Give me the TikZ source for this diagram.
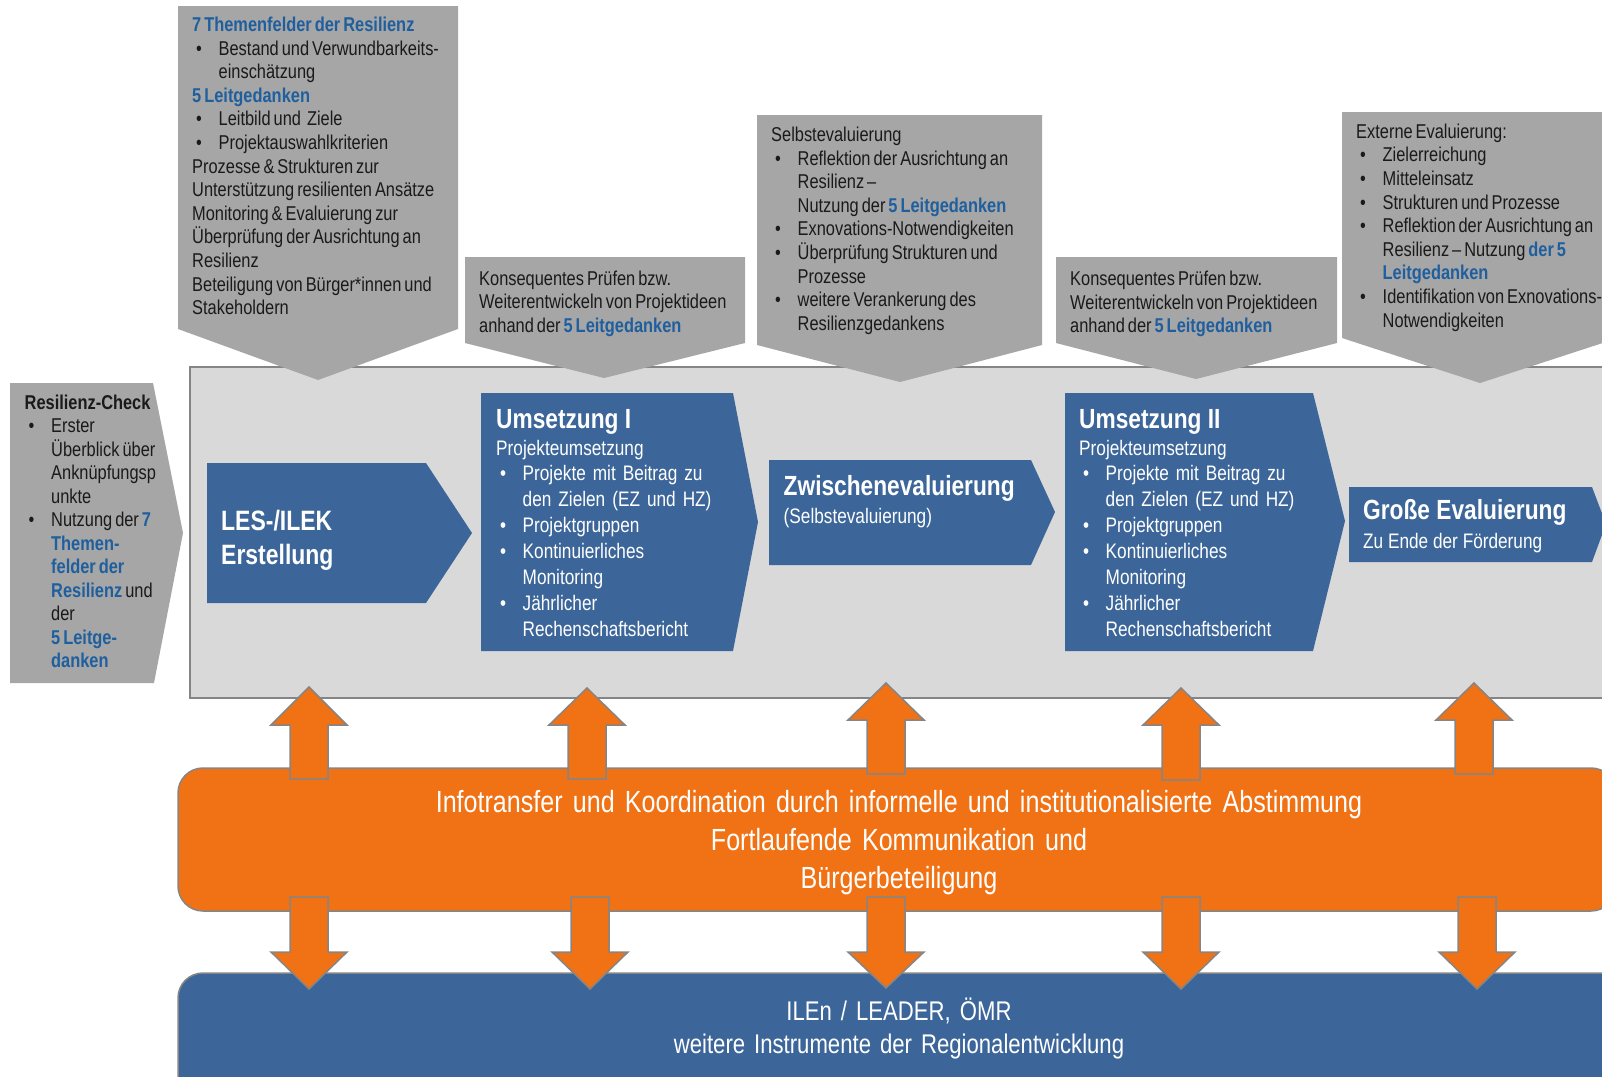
\documentclass[tikz,border=0pt]{standalone}
\usepackage{fontspec}
\setmainfont{Liberation Sans}[FakeStretch=0.82]
\definecolor{cgray}{HTML}{A6A6A6}
\definecolor{cpanel}{HTML}{D9D9D9}
\definecolor{cedge}{HTML}{858585}
\definecolor{cblue}{HTML}{3C6699}
\definecolor{ctxt}{HTML}{1F5F9E}
\definecolor{corange}{HTML}{F07214}
\definecolor{cdark}{HTML}{1A1A1A}
\newcommand\hl[1]{\textcolor{ctxt}{\bfseries #1}}
\newcommand\bu{\hspace*{4pt}\makebox[22.5pt][l]{\textbullet}}
\newcommand\ii{\hspace*{26.5pt}}
\newcommand\TightSp{\spaceskip 3pt plus 1pt minus 0.5pt\relax}
\newcommand\UpArrow[4]{%
  \draw[arr] (#1,#2) -- (#1+38,#3) -- (#1+19,#3) -- (#1+19,#4) -- (#1-19,#4) -- (#1-19,#3) -- (#1-38,#3) -- cycle;}
\newcommand\DownArrow[4]{%
  \draw[arr] (#1,#2) -- (#1+38,#3) -- (#1+19,#3) -- (#1+19,#4) -- (#1-19,#4) -- (#1-19,#3) -- (#1-38,#3) -- cycle;}
\begin{document}
\begin{tikzpicture}[x=1pt,y=-1pt,
  callout/.style={fill=cgray},
  panel/.style={fill=cpanel, draw=cedge, line width=1.5pt},
  chev/.style={fill=cblue},
  band/.style={draw=cedge, line width=1.5pt, rounded corners=25pt},
  arr/.style={fill=corange, draw=cedge, line width=1.5pt, line join=miter},
  ctext/.style={anchor=base west, inner sep=0pt, text width=420pt, align=left, text=cdark,
    font=\fontsize{20}{23.6}\selectfont, execute at begin node=\TightSp},
  wtext/.style={anchor=base west, inner sep=0pt, text width=420pt, align=left, text=white,
    font=\fontsize{21}{26}\selectfont},
  ttext/.style={anchor=base west, inner sep=0pt, text=white, font=\fontsize{27.7}{32}\selectfont\bfseries},
  stext/.style={anchor=base west, inner sep=0pt, text=white, font=\fontsize{21}{26}\selectfont},
  btext/.style={anchor=base, inner sep=0pt, text width=1400pt, align=center, text=white}
]
\useasboundingbox (0,0) rectangle (1602,1076);
\clip (0,0) rectangle (1602,1076);

% panel
\draw[panel] (190,367) rectangle (1620,698);

% callouts
\fill[callout] (178,6) -- (458,6) -- (458,329) -- (318,380) -- (178,329) -- cycle;
\fill[callout] (465,257) -- (745,257) -- (745,343) -- (604,378) -- (465,343) -- cycle;
\fill[callout] (757,115) -- (1042,115) -- (1042,345) -- (900,382) -- (757,345) -- cycle;
\fill[callout] (1056,257) -- (1337,257) -- (1337,343) -- (1196,379) -- (1056,343) -- cycle;
\fill[callout] (1342,112) -- (1618,112) -- (1618,338) -- (1480,383) -- (1342,338) -- cycle;

% resilienz check
\fill[callout] (10,383) -- (153,383) -- (183,533) -- (154,683) -- (10,683) -- cycle;

% blue chevrons
\fill[chev] (207,463) -- (426,463) -- (472,533) -- (426,603) -- (207,603) -- cycle;
\fill[chev] (481,393) -- (733,393) -- (758,522) -- (733,651) -- (481,651) -- cycle;
\fill[chev] (769,460) -- (1031,460) -- (1055,512) -- (1031,565) -- (769,565) -- cycle;
\fill[chev] (1065,393) -- (1313,393) -- (1345,521) -- (1313,651) -- (1065,651) -- cycle;
\fill[chev] (1349,487) -- (1592,487) -- (1606,524) -- (1592,562) -- (1349,562) -- cycle;

% bands
\draw[band, fill=corange] (178,768) rectangle (1616,911);
\draw[band, fill=cblue] (178,973) rectangle (1640,1120);

% arrows
\UpArrow{309}{687}{725}{779}
\UpArrow{587}{688}{725}{779}
\UpArrow{886}{683}{720}{774}
\UpArrow{1181}{688}{725}{780}
\UpArrow{1474}{683}{720}{774}
\DownArrow{309}{989}{952}{897}
\DownArrow{590}{989}{952}{897}
\DownArrow{886}{988}{952}{897}
\DownArrow{1181}{989}{952}{897}
\DownArrow{1477}{989}{952}{897}

% callout texts
\node[ctext] (t1) at (192,31.5) {\hl{7 Themenfelder der Resilienz}\\
\bu Bestand und Verwundbarkeits-\\
\ii einschätzung\\
\hl{5 Leitgedanken}\\
\bu Leitbild und\ \ Ziele\\
\bu Projektauswahlkriterien\\
Prozesse \& Strukturen zur\\
Unterstützung resilienten Ansätze\\
Monitoring \& Evaluierung zur\\
Überprüfung der Ausrichtung an\\
Resilienz\\
Beteiligung von Bürger*innen und\\
Stakeholdern};

\node[ctext] (t2) at (479,285) {Konsequentes Prüfen bzw.\\
Weiterentwickeln von Projektideen\\
anhand der \hl{5 Leitgedanken}};

\node[ctext] (t3) at (771,141.5) {Selbstevaluierung\\
\bu Reflektion der Ausrichtung an\\
\ii Resilienz –\\
\ii Nutzung der \hl{5 Leitgedanken}\\
\bu Exnovations-Notwendigkeiten\\
\bu Überprüfung Strukturen und\\
\ii Prozesse\\
\bu weitere Verankerung des\\
\ii Resilienzgedankens};

\node[ctext] (t4) at (1070,285.5) {Konsequentes Prüfen bzw.\\
Weiterentwickeln von Projektideen\\
anhand der \hl{5 Leitgedanken}};

\node[ctext] (t5) at (1356,138.3) {Externe Evaluierung:\\
\bu Zielerreichung\\
\bu Mitteleinsatz\\
\bu Strukturen und Prozesse\\
\bu Reflektion der Ausrichtung an\\
\ii Resilienz – Nutzung \hl{der 5}\\
\ii\hl{Leitgedanken}\\
\bu Identifikation von Exnovations-\\
\ii Notwendigkeiten};

\node[ctext, font=\fontsize{20}{23.5}\selectfont] (t0) at (24.5,409.3) {\textbf{Resilienz-Check}\\
\bu Erster\\
\ii Überblick über\\
\ii Anknüpfungsp\\
\ii unkte\\
\bu Nutzung der \hl{7}\\
\ii\hl{Themen-}\\
\ii\hl{felder der}\\
\ii\hl{Resilienz} und\\
\ii der\\
\ii\hl{5 Leitge-}\\
\ii\hl{danken}};

% chevron texts
\node[ttext, font=\fontsize{28}{33.5}\selectfont\bfseries, text width=220pt, align=left] (les) at (221,530.7) {LES-/ILEK\\Erstellung};

\node[ttext] (u1) at (496,428) {Umsetzung I};
\node[stext] (u1s) at (496,455) {Projekteumsetzung};
\node[wtext] (u1b) at (496,480.7) {\bu Projekte mit Beitrag zu\\
\ii den Zielen (EZ und HZ)\\
\bu Projektgruppen\\
\bu Kontinuierliches\\
\ii Monitoring\\
\bu Jährlicher\\
\ii Rechenschaftsbericht};

\node[ttext] (zw) at (783.5,495) {Zwischenevaluierung};
\node[stext] (zws) at (783.5,523) {(Selbstevaluierung)};

\node[ttext] (u2) at (1079,428) {Umsetzung II};
\node[stext] (u2s) at (1079,455) {Projekteumsetzung};
\node[wtext] (u2b) at (1079,480.7) {\bu Projekte mit Beitrag zu\\
\ii den Zielen (EZ und HZ)\\
\bu Projektgruppen\\
\bu Kontinuierliches\\
\ii Monitoring\\
\bu Jährlicher\\
\ii Rechenschaftsbericht};

\node[ttext] (ge) at (1363,519) {Große Evaluierung};
\node[stext] (ges) at (1363,548) {Zu Ende der Förderung};

% band texts
\node[btext, font=\fontsize{30.6}{37.8}\selectfont] (info) at (899,812.5) {Infotransfer und Koordination durch informelle und institutionalisierte Abstimmung\\
Fortlaufende Kommunikation und\\
Bürgerbeteiligung};
\node[btext, font=\fontsize{27}{33}\selectfont] (ilen) at (899,1020) {ILEn / LEADER, ÖMR\\
weitere Instrumente der Regionalentwicklung};
\end{tikzpicture}
\end{document}
